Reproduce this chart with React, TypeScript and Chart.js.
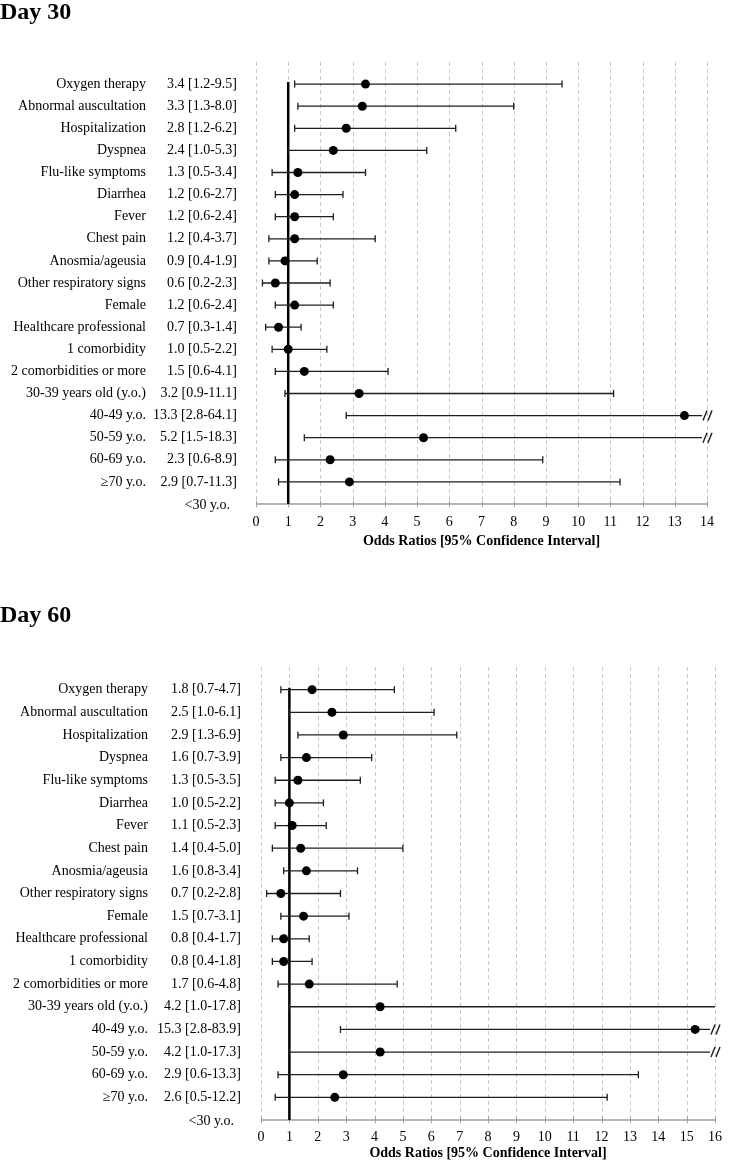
import React, { useEffect, useRef } from 'react';
import { Chart, registerables } from 'chart.js';

Chart.register(...registerables);

const FONT = '"Liberation Serif", "Times New Roman", serif';

const categories = [
  'Oxygen therapy',
  'Abnormal auscultation',
  'Hospitalization',
  'Dyspnea',
  'Flu-like symptoms',
  'Diarrhea',
  'Fever',
  'Chest pain',
  'Anosmia/ageusia',
  'Other respiratory signs',
  'Female',
  'Healthcare professional',
  '1 comorbidity',
  '2 comorbidities or more',
  '30-39 years old (y.o.)',
  '40-49 y.o.',
  '50-59 y.o.',
  '60-69 y.o.',
  '≥70 y.o.',
];
const referenceCategory = '<30 y.o.';

const or30 = [3.4, 3.3, 2.8, 2.4, 1.3, 1.2, 1.2, 1.2, 0.9, 0.6, 1.2, 0.7, 1.0, 1.5, 3.2, 13.3, 5.2, 2.3, 2.9];
const lo30 = [1.2, 1.3, 1.2, 1.0, 0.5, 0.6, 0.6, 0.4, 0.4, 0.2, 0.6, 0.3, 0.5, 0.6, 0.9, 2.8, 1.5, 0.6, 0.7];
const hi30 = [9.5, 8.0, 6.2, 5.3, 3.4, 2.7, 2.4, 3.7, 1.9, 2.3, 2.4, 1.4, 2.2, 4.1, 11.1, 64.1, 18.3, 8.9, 11.3];

const or60 = [1.8, 2.5, 2.9, 1.6, 1.3, 1.0, 1.1, 1.4, 1.6, 0.7, 1.5, 0.8, 0.8, 1.7, 4.2, 15.3, 4.2, 2.9, 2.6];
const lo60 = [0.7, 1.0, 1.3, 0.7, 0.5, 0.5, 0.5, 0.4, 0.8, 0.2, 0.7, 0.4, 0.4, 0.6, 1.0, 2.8, 1.0, 0.6, 0.5];
const hi60 = [4.7, 6.1, 6.9, 3.9, 3.5, 2.2, 2.3, 5.0, 3.4, 2.8, 3.1, 1.7, 1.8, 4.8, 17.8, 83.9, 17.3, 13.3, 12.2];

const xMax30 = 14;
const xMax60 = 16;
const brokenRows30 = ['40-49 y.o.', '50-59 y.o.'];
const brokenRows60 = ['40-49 y.o.', '50-59 y.o.'];
const axisTitle = 'Odds Ratios [95% Confidence Interval]';

type Panel = {
  or: number[];
  lo: number[];
  hi: number[];
  xMax: number;
  broken: string[];
  width: number;
  height: number;
  pad: { left: number; right: number; top: number; bottom: number };
  xAxisHeight: number;
  tickPadding: number;
  nameRight: number;
  valueGap: number;
};

const fmt = (v: number) => v.toFixed(1);

function makePlugin(p: Panel) {
  const n = categories.length;
  const rowVal = (i: number) => n - i;
  return {
    id: 'forest',
    beforeDatasetsDraw(chart: any) {
      const { ctx, chartArea: a, scales } = chart;
      const x = scales.x;
      const y = scales.y;
      const line = (x1: number, y1: number, x2: number, y2: number) => {
        ctx.beginPath();
        ctx.moveTo(x1, y1);
        ctx.lineTo(x2, y2);
        ctx.stroke();
      };
      ctx.save();
      // dashed grid
      ctx.strokeStyle = '#c6c6c6';
      ctx.lineWidth = 1;
      ctx.setLineDash([4, 3]);
      for (let v = 0; v <= p.xMax; v++) {
        const px = Math.round(x.getPixelForValue(v)) + 0.5;
        line(px, a.top, px, a.bottom);
      }
      ctx.setLineDash([]);
      // axis line + ticks
      ctx.strokeStyle = '#9c9c9c';
      ctx.lineWidth = 1.5;
      line(x.getPixelForValue(0), a.bottom, x.getPixelForValue(p.xMax), a.bottom);
      ctx.lineWidth = 1;
      for (let v = 0; v <= p.xMax; v++) {
        const px = Math.round(x.getPixelForValue(v)) + 0.5;
        line(px, a.bottom - 3, px, a.bottom + 3);
      }
      // reference line at OR = 1
      ctx.strokeStyle = '#000';
      ctx.lineWidth = 2.5;
      const p1 = x.getPixelForValue(1);
      line(p1, y.getPixelForValue(rowVal(0)) - 2, p1, a.bottom);
      // error bars
      ctx.strokeStyle = '#1e1e1e';
      ctx.lineWidth = 1.3;
      categories.forEach((name, i) => {
        const py = y.getPixelForValue(rowVal(i));
        const lx = x.getPixelForValue(p.lo[i]);
        const truncated = p.hi[i] > p.xMax;
        const broken = truncated && p.broken.includes(name);
        const hx = truncated
          ? x.getPixelForValue(p.xMax) - (broken ? 5 : 0)
          : x.getPixelForValue(p.hi[i]);
        line(lx, py, hx, py);
        line(lx, py - 3.5, lx, py + 3.5);
        if (!truncated) line(hx, py - 3.5, hx, py + 3.5);
        if (broken) {
          ctx.lineWidth = 1.4;
          line(hx + 1, py + 5, hx + 5, py - 5);
          line(hx + 6, py + 5, hx + 10, py - 5);
          ctx.lineWidth = 1.3;
        }
      });
      ctx.restore();
    },
    afterDraw(chart: any) {
      const { ctx, chartArea: a, scales } = chart;
      const y = scales.y;
      ctx.save();
      ctx.font = `14px ${FONT}`;
      ctx.fillStyle = '#000';
      ctx.textBaseline = 'middle';
      ctx.textAlign = 'right';
      const valueRight = a.left - p.valueGap;
      categories.forEach((name, i) => {
        const py = y.getPixelForValue(rowVal(i));
        ctx.fillText(name, p.nameRight, py);
        ctx.fillText(`${fmt(p.or[i])} [${fmt(p.lo[i])}-${fmt(p.hi[i])}]`, valueRight, py);
      });
      ctx.fillText(referenceCategory, valueRight - 7, y.getPixelForValue(0) + 1);
      ctx.restore();
    },
  };
}

function ForestChart({ panel }: { panel: Panel }) {
  const ref = useRef<HTMLCanvasElement | null>(null);
  useEffect(() => {
    if (!ref.current) return;
    const n = categories.length;
    const chart = new Chart(ref.current, {
      type: 'scatter',
      data: {
        datasets: [
          {
            data: categories.map((_, i) => ({ x: panel.or[i], y: n - i })),
            pointRadius: 4.5,
            pointHoverRadius: 4.5,
            pointBackgroundColor: '#000',
            pointBorderColor: '#000',
            pointBorderWidth: 0,
            showLine: false,
          },
        ],
      },
      options: {
        responsive: false,
        animation: false,
        events: [],
        layout: { padding: panel.pad },
        plugins: {
          legend: { display: false },
          tooltip: { enabled: false },
        },
        scales: {
          x: {
            type: 'linear',
            min: 0,
            max: panel.xMax,
            grid: { display: false, drawTicks: false },
            border: { display: false },
            ticks: {
              stepSize: 1,
              color: '#000',
              padding: panel.tickPadding,
              font: { family: FONT, size: 14 },
              maxRotation: 0,
            },
            title: {
              display: true,
              text: axisTitle,
              color: '#000',
              padding: 0,
              font: { family: FONT, size: 14, weight: 'bold' },
            },
            afterFit: (scale: any) => {
              scale.height = panel.xAxisHeight;
            },
          },
          y: {
            type: 'linear',
            min: 0,
            max: n + 1,
            display: false,
          },
        },
      },
      plugins: [makePlugin(panel)],
    } as any);
    return () => chart.destroy();
  }, [panel]);
  return (
    <canvas
      ref={ref}
      width={panel.width}
      height={panel.height}
      style={{ display: 'block', width: panel.width, height: panel.height }}
    />
  );
}

const panel30: Panel = {
  or: or30,
  lo: lo30,
  hi: hi30,
  xMax: xMax30,
  broken: brokenRows30,
  width: 731,
  height: 560,
  pad: { left: 256, right: 24, top: 62, bottom: 10 },
  xAxisHeight: 46,
  tickPadding: 10,
  nameRight: 146,
  valueGap: 19,
};

const panel60: Panel = {
  or: or60,
  lo: lo60,
  hi: hi60,
  xMax: xMax60,
  broken: brokenRows60,
  width: 731,
  height: 586,
  pad: { left: 261, right: 8, top: 87, bottom: 4 },
  xAxisHeight: 42,
  tickPadding: 9,
  nameRight: 148,
  valueGap: 20,
};

const headingStyle: React.CSSProperties = {
  position: 'absolute',
  left: 0,
  margin: 0,
  font: `bold 24px ${FONT}`,
  lineHeight: '24px',
  color: '#000',
};

export default function App() {
  return (
    <div style={{ position: 'absolute', left: 0, top: 0, width: 731, height: 1166, background: '#fff', overflow: 'hidden' }}>
      <div style={{ position: 'absolute', left: 0, top: 0 }}>
        <ForestChart panel={panel30} />
      </div>
      <div style={{ position: 'absolute', left: 0, top: 580 }}>
        <ForestChart panel={panel60} />
      </div>
      <div style={{ ...headingStyle, top: -1 }}>Day 30</div>
      <div style={{ ...headingStyle, top: 602 }}>Day 60</div>
    </div>
  );
}
